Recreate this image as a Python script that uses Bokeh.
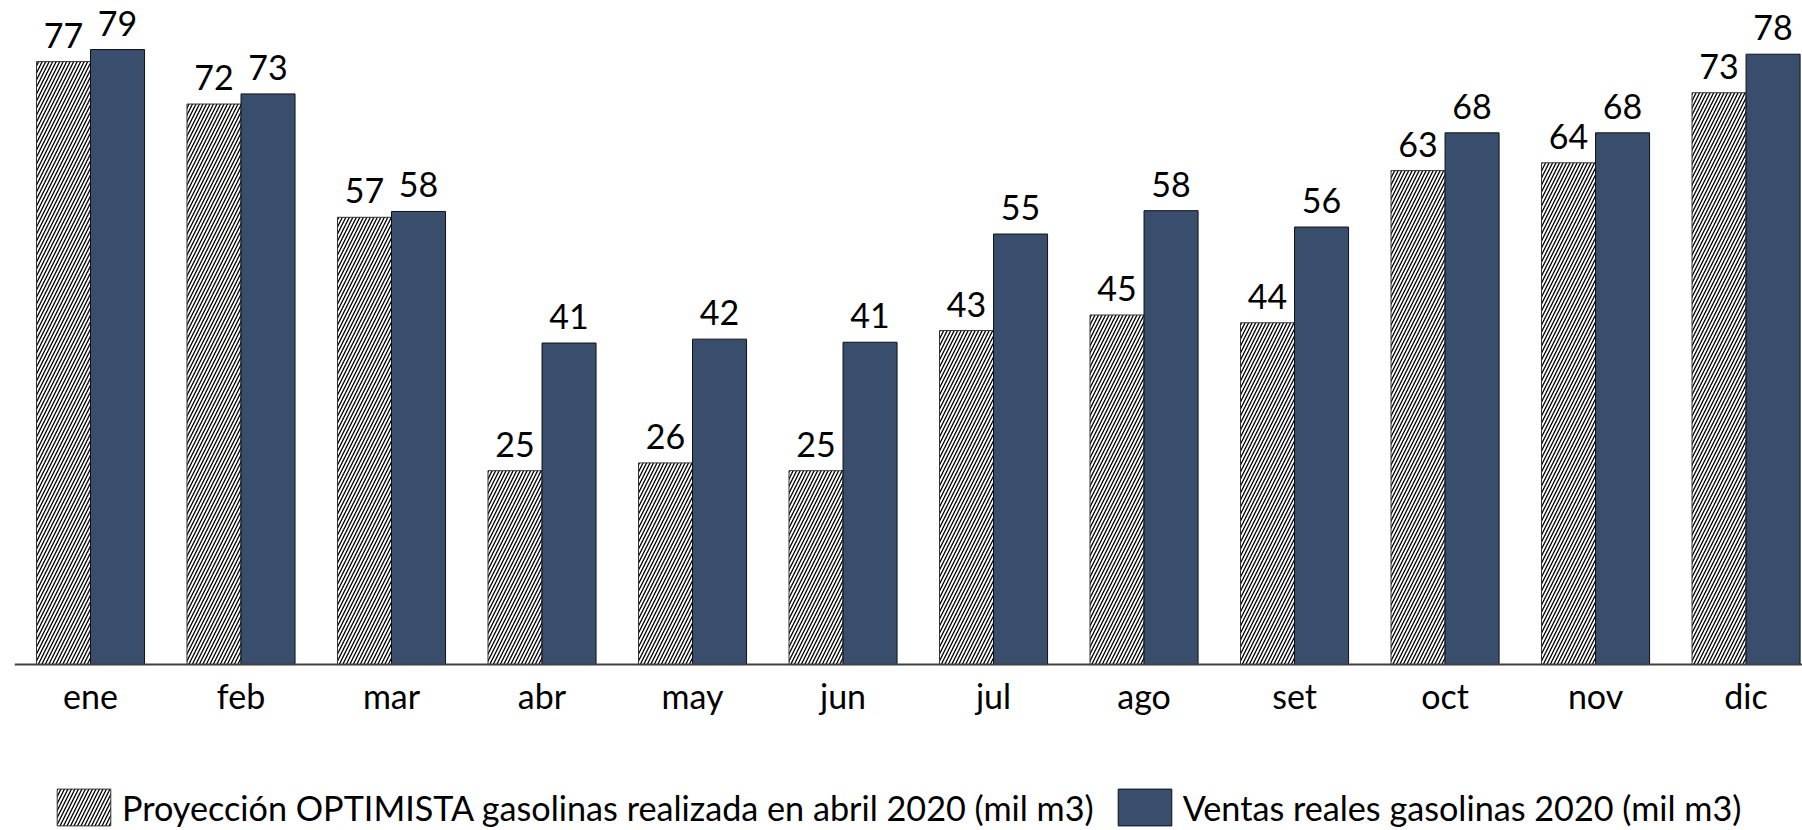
from bokeh.plotting import figure
from bokeh.models import ColumnDataSource, Range1d, FixedTicker, Legend, LegendItem
from bokeh.transform import dodge
from bokeh.core.properties import value
from bokeh.embed import file_html
from bokeh.resources import INLINE

months = ["ene", "feb", "mar", "abr", "may", "jun", "jul", "ago", "set", "oct", "nov", "dic"]
proyeccion = [77.45, 72.0, 57.45, 24.9, 25.9, 24.9, 42.9, 44.9, 43.9, 63.45, 64.45, 73.45]
ventas = [79.0, 73.3, 58.2, 41.3, 41.8, 41.4, 55.3, 58.3, 56.2, 68.3, 68.3, 78.4]
label_proy = "Proyección OPTIMISTA gasolinas realizada en abril 2020 (mil m3)"
label_vent = "Ventas reales gasolinas 2020 (mil m3)"

FONT = "Lato"
FS = "34px"
BLUE = "#394D6D"

idx = list(range(len(months)))
src = ColumnDataSource(dict(
    x=idx, proy=proyeccion, vent=ventas,
    proy_txt=[f"{v:.0f}" for v in proyeccion], vent_txt=[f"{v:.0f}" for v in ventas],
))

p = figure(width=1802, height=830, output_backend="svg", toolbar_location=None,
           x_range=Range1d(-0.505, 11.375), y_range=Range1d(-21.32, 85.30),
           min_border_left=14, min_border_right=0, min_border_top=0, min_border_bottom=0)
p.outline_line_color = None
p.xgrid.visible = False
p.ygrid.visible = False
p.yaxis.visible = False
p.background_fill_color = "white"
p.border_fill_color = "white"

bw = 0.359
r1 = p.vbar(x=dodge("x", -bw / 2, range=p.x_range), top="proy", width=bw, bottom=0, source=src,
            fill_color="white", line_color="#333333", line_width=1,
            hatch_pattern="right_diagonal_line", hatch_color="black", hatch_scale=7, hatch_weight=1.3)
r2 = p.vbar(x=dodge("x", bw / 2, range=p.x_range), top="vent", width=bw, bottom=0, source=src,
            fill_color=BLUE, line_color="#111111", line_width=1)

p.text(x=dodge("x", -bw / 2, range=p.x_range), y="proy", text="proy_txt", source=src,
       text_align="center", text_baseline="bottom", y_offset=-14,
       text_font=value(FONT), text_font_size=FS, text_color="black")
p.text(x=dodge("x", bw / 2, range=p.x_range), y="vent", text="vent_txt", source=src,
       text_align="center", text_baseline="bottom", y_offset=-14,
       text_font=value(FONT), text_font_size=FS, text_color="black")

ax = p.xaxis[0]
ax.fixed_location = 0
ax.ticker = FixedTicker(ticks=idx)
ax.major_label_overrides = {i: m for i, m in zip(idx, months)}
ax.major_tick_line_color = None
ax.minor_tick_line_color = None
ax.axis_line_color = "#404040"
ax.axis_line_width = 2
ax.major_label_standoff = 4
ax.major_label_text_font = FONT
ax.major_label_text_font_size = FS
ax.major_label_text_color = "black"

legend = Legend(items=[LegendItem(label=label_proy, renderers=[r1]),
                       LegendItem(label=label_vent, renderers=[r2])],
                orientation="horizontal", location=(36, 0),
                glyph_width=67, glyph_height=46, label_standoff=5, spacing=17,
                padding=0, margin=0, border_line_color=None, background_fill_alpha=0,
                label_text_font=FONT, label_text_font_size="34.2px", label_text_color="black",
                label_height=46)
p.add_layout(legend, "center")

open("out.html", "w").write(file_html(p, INLINE))
